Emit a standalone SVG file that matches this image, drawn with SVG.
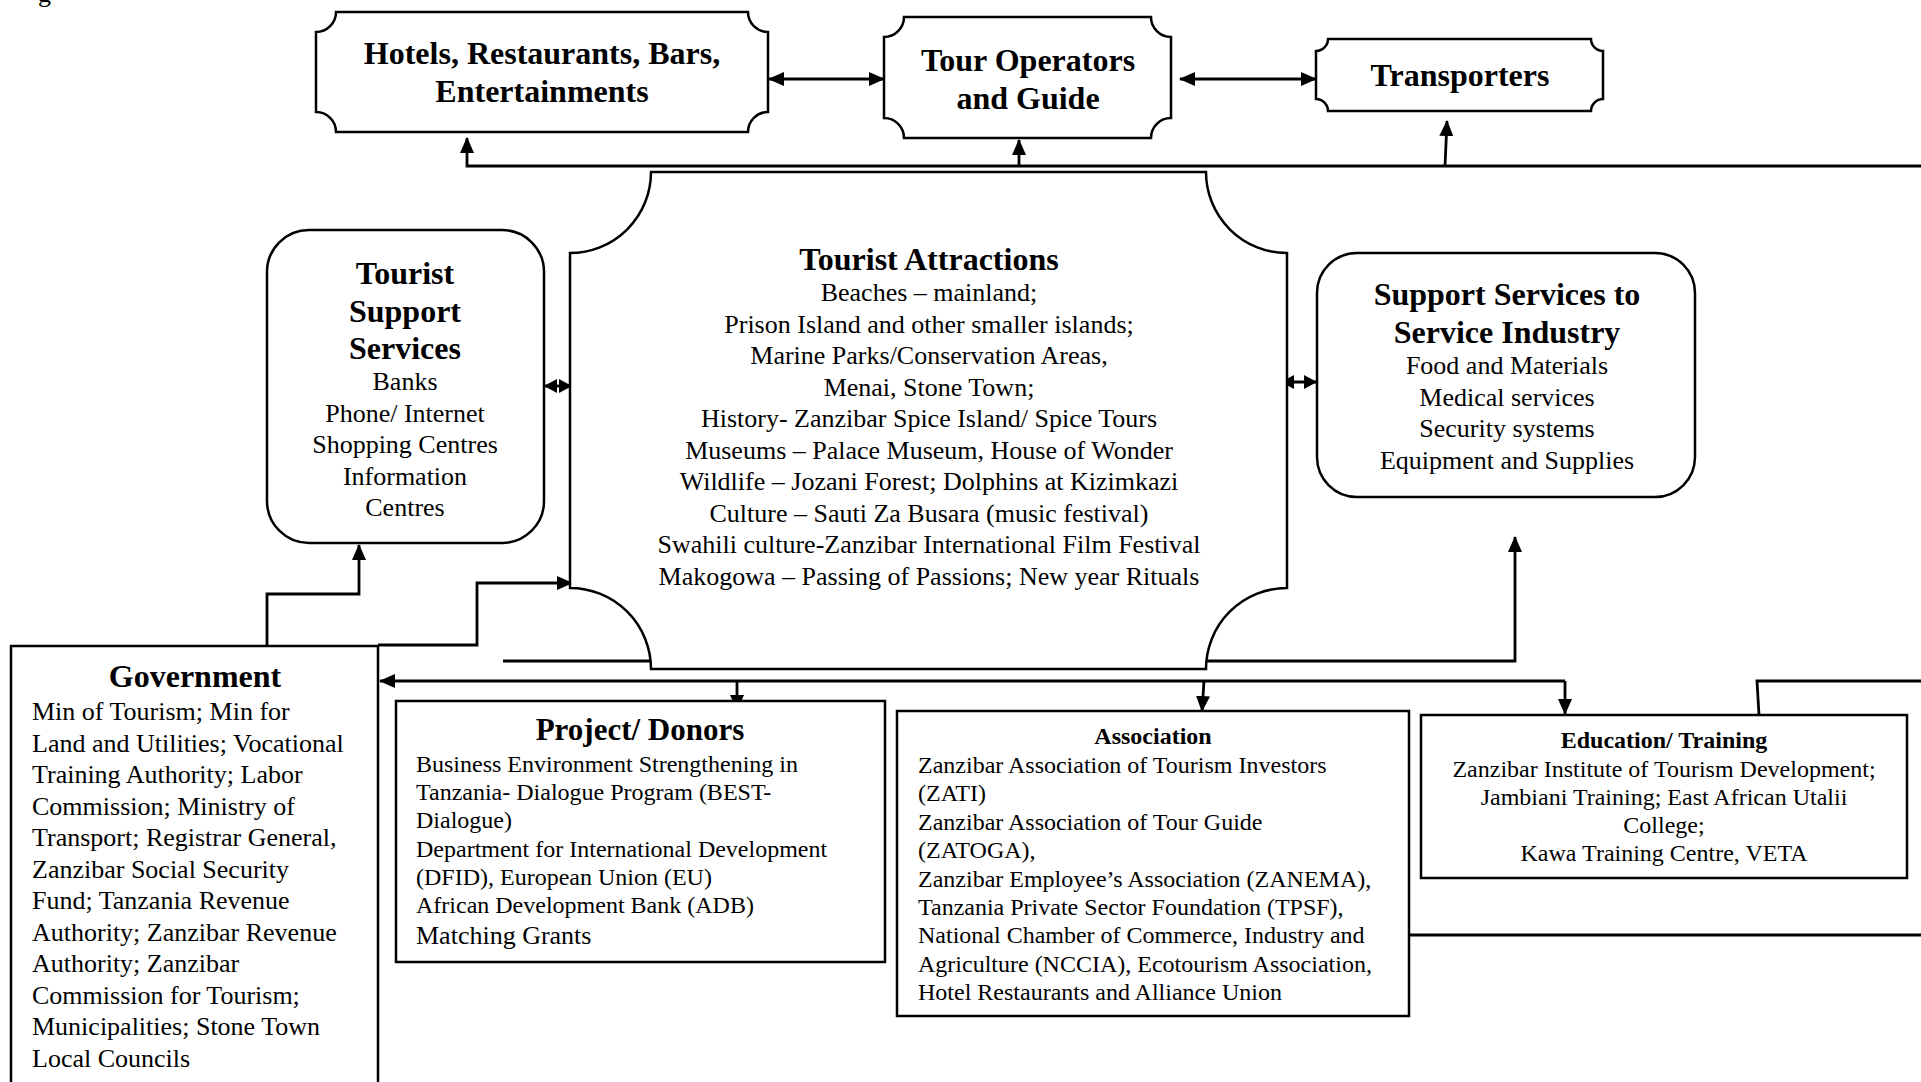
<svg xmlns="http://www.w3.org/2000/svg" width="1921" height="1082" viewBox="0 0 1921 1082">
<defs>
<style>
.box{fill:#fff;stroke:#000;stroke-width:2.5}
.c{fill:none;stroke:#000;stroke-width:2.8}
.t{font-family:"Liberation Serif","Times New Roman",serif;fill:#000}
.b{font-weight:bold}
.s32{font-size:32px}
.s26{font-size:26px}
.s24{font-size:24px}
.mid{text-anchor:middle}
</style>
<marker id="ah" markerUnits="userSpaceOnUse" markerWidth="16" markerHeight="14" refX="15" refY="7" orient="auto-start-reverse"><path d="M0,0 L16,7 L0,14 z" fill="#000"/></marker>
<marker id="as" markerUnits="userSpaceOnUse" markerWidth="13" markerHeight="14" refX="12" refY="7" orient="auto-start-reverse"><path d="M0,0 L13,7 L0,14 z" fill="#000"/></marker>
</defs>
<rect width="1921" height="1082" fill="#fff"/>
<text class="t s26" x="38" y="1.5">g</text>

<g id="connectors">
<path class="c" d="M769,79 H884" marker-start="url(#ah)" marker-end="url(#ah)"/>
<path class="c" d="M1180,79 H1316" marker-start="url(#ah)" marker-end="url(#ah)"/>
<path class="c" d="M1921,166 H467 V138" marker-end="url(#ah)"/>
<path class="c" d="M1019,166 V140" marker-end="url(#ah)"/>
<path class="c" d="M1445,166 L1447,121" marker-end="url(#ah)"/>
<path class="c" d="M267,646 V594 H359 V545" marker-end="url(#ah)"/>
<path class="c" d="M378,645 H477 V583 H572" marker-end="url(#ah)"/>
<path class="c" d="M545,386 H571" marker-start="url(#as)" marker-end="url(#as)"/>
<path class="c" d="M1282,382 H1316" marker-start="url(#as)" marker-end="url(#as)"/>
<path class="c" d="M503,661 H1515 V537" marker-end="url(#ah)"/>
<path class="c" d="M1057,661 L1060,632" marker-end="url(#ah)"/>
<path class="c" d="M1565,681 H380" marker-end="url(#ah)"/>
<path class="c" d="M1565,681 V714" marker-end="url(#ah)"/>
<path class="c" d="M737,681 V710" marker-end="url(#ah)"/>
<path class="c" d="M1204,681 L1202,711" marker-end="url(#ah)"/>
<path class="c" d="M1759,715 L1757,681 H1921"/>
<path class="c" d="M1409,935 H1921"/>
</g>

<g id="hotels">
<path class="box" d="M336,12 H748 A20,20 0 0 0 768,32 V112 A20,20 0 0 0 748,132 H336 A20,20 0 0 0 316,112 V32 A20,20 0 0 0 336,12 Z"/>
<text class="t b s32 mid" x="542" y="64">Hotels, Restaurants, Bars,</text>
<text class="t b s32 mid" x="542" y="102">Entertainments</text>
</g>

<g id="tour-operators">
<path class="box" d="M904,17 H1151 A20,20 0 0 0 1171,37 V118 A20,20 0 0 0 1151,138 H904 A20,20 0 0 0 884,118 V37 A20,20 0 0 0 904,17 Z"/>
<text class="t b s32 mid" x="1028" y="71">Tour Operators</text>
<text class="t b s32 mid" x="1028" y="109">and Guide</text>
</g>

<g id="transporters">
<path class="box" d="M1328,39 H1591 A12,12 0 0 0 1603,51 V99 A12,12 0 0 0 1591,111 H1328 A12,12 0 0 0 1316,99 V51 A12,12 0 0 0 1328,39 Z"/>
<text class="t b s32 mid" x="1460" y="86">Transporters</text>
</g>

<g id="tourist-attractions">
<path class="box" d="M651,172 H1206 A81,81 0 0 0 1287,253 V588 A81,81 0 0 0 1206,669 H651 A81,81 0 0 0 570,588 V253 A81,81 0 0 0 651,172 Z"/>
<text class="t b s32 mid" x="929" y="270">Tourist Attractions</text>
<text class="t s26 mid" x="929" y="301">Beaches – mainland;</text>
<text class="t s26 mid" x="929" y="332.5">Prison Island and other smaller islands;</text>
<text class="t s26 mid" x="929" y="364">Marine Parks/Conservation Areas,</text>
<text class="t s26 mid" x="929" y="395.5">Menai, Stone Town;</text>
<text class="t s26 mid" x="929" y="427">History- Zanzibar Spice Island/ Spice Tours</text>
<text class="t s26 mid" x="929" y="458.5">Museums – Palace Museum, House of Wonder</text>
<text class="t s26 mid" x="929" y="490">Wildlife – Jozani Forest; Dolphins at Kizimkazi</text>
<text class="t s26 mid" x="929" y="521.5">Culture – Sauti Za Busara (music festival)</text>
<text class="t s26 mid" x="929" y="553">Swahili culture-Zanzibar International Film Festival</text>
<text class="t s26 mid" x="929" y="584.5">Makogowa – Passing of Passions; New year Rituals</text>
</g>

<g id="tourist-support">
<rect class="box" x="267" y="230" width="277" height="313" rx="42" ry="42"/>
<text class="t b s32 mid" x="405" y="284">Tourist</text>
<text class="t b s32 mid" x="405" y="322">Support</text>
<text class="t b s32 mid" x="405" y="359">Services</text>
<text class="t s26 mid" x="405" y="390">Banks</text>
<text class="t s26 mid" x="405" y="421.5">Phone/ Internet</text>
<text class="t s26 mid" x="405" y="453">Shopping Centres</text>
<text class="t s26 mid" x="405" y="484.5">Information</text>
<text class="t s26 mid" x="405" y="516">Centres</text>
</g>

<g id="support-services">
<rect class="box" x="1317" y="253" width="378" height="244" rx="40" ry="40"/>
<text class="t b s32 mid" x="1507" y="305">Support Services to</text>
<text class="t b s32 mid" x="1507" y="343">Service Industry</text>
<text class="t s26 mid" x="1507" y="374">Food and Materials</text>
<text class="t s26 mid" x="1507" y="405.5">Medical services</text>
<text class="t s26 mid" x="1507" y="437">Security systems</text>
<text class="t s26 mid" x="1507" y="468.5">Equipment and Supplies</text>
</g>

<g id="government">
<rect class="box" x="11" y="646" width="367" height="460"/>
<text class="t b s32 mid" x="195" y="687">Government</text>
<text class="t s26" x="32" y="720">Min of Tourism; Min for</text>
<text class="t s26" x="32" y="751.5">Land and Utilities; Vocational</text>
<text class="t s26" x="32" y="783">Training Authority; Labor</text>
<text class="t s26" x="32" y="814.5">Commission; Ministry of</text>
<text class="t s26" x="32" y="846">Transport; Registrar General,</text>
<text class="t s26" x="32" y="877.5">Zanzibar Social Security</text>
<text class="t s26" x="32" y="909">Fund; Tanzania Revenue</text>
<text class="t s26" x="32" y="940.5">Authority; Zanzibar Revenue</text>
<text class="t s26" x="32" y="972">Authority; Zanzibar</text>
<text class="t s26" x="32" y="1003.5">Commission for Tourism;</text>
<text class="t s26" x="32" y="1035">Municipalities; Stone Town</text>
<text class="t s26" x="32" y="1066.5">Local Councils</text>
</g>

<g id="project-donors">
<rect class="box" x="396" y="701" width="489" height="261"/>
<text class="t b mid" style="font-size:31px" x="640" y="740">Project/ Donors</text>
<text class="t s24" x="416" y="772">Business Environment Strengthening in</text>
<text class="t s24" x="416" y="800">Tanzania- Dialogue Program (BEST-</text>
<text class="t s24" x="416" y="828">Dialogue)</text>
<text class="t s24" x="416" y="857">Department for International Development</text>
<text class="t s24" x="416" y="885">(DFID), European Union (EU)</text>
<text class="t s24" x="416" y="913">African Development Bank (ADB)</text>
<text class="t s26" x="416" y="944">Matching Grants</text>
</g>

<g id="association">
<rect class="box" x="897" y="711" width="512" height="305"/>
<text class="t b s24 mid" x="1153" y="744">Association</text>
<text class="t s24" x="918" y="773">Zanzibar Association of Tourism Investors</text>
<text class="t s24" x="918" y="801.4">(ZATI)</text>
<text class="t s24" x="918" y="829.8">Zanzibar Association of Tour Guide</text>
<text class="t s24" x="918" y="858.2">(ZATOGA),</text>
<text class="t s24" x="918" y="886.6">Zanzibar Employee’s Association (ZANEMA),</text>
<text class="t s24" x="918" y="915">Tanzania Private Sector Foundation (TPSF),</text>
<text class="t s24" x="918" y="943.4">National Chamber of Commerce, Industry and</text>
<text class="t s24" x="918" y="971.8">Agriculture (NCCIA), Ecotourism Association,</text>
<text class="t s24" x="918" y="1000.2">Hotel Restaurants and Alliance Union</text>
</g>

<g id="education-training">
<rect class="box" x="1421" y="715" width="486" height="163"/>
<text class="t b s24 mid" x="1664" y="748">Education/ Training</text>
<text class="t s24 mid" x="1664" y="777">Zanzibar Institute of Tourism Development;</text>
<text class="t s24 mid" x="1664" y="805">Jambiani Training; East African Utalii</text>
<text class="t s24 mid" x="1664" y="833">College;</text>
<text class="t s24 mid" x="1664" y="861">Kawa Training Centre, VETA</text>
</g>
</svg>
